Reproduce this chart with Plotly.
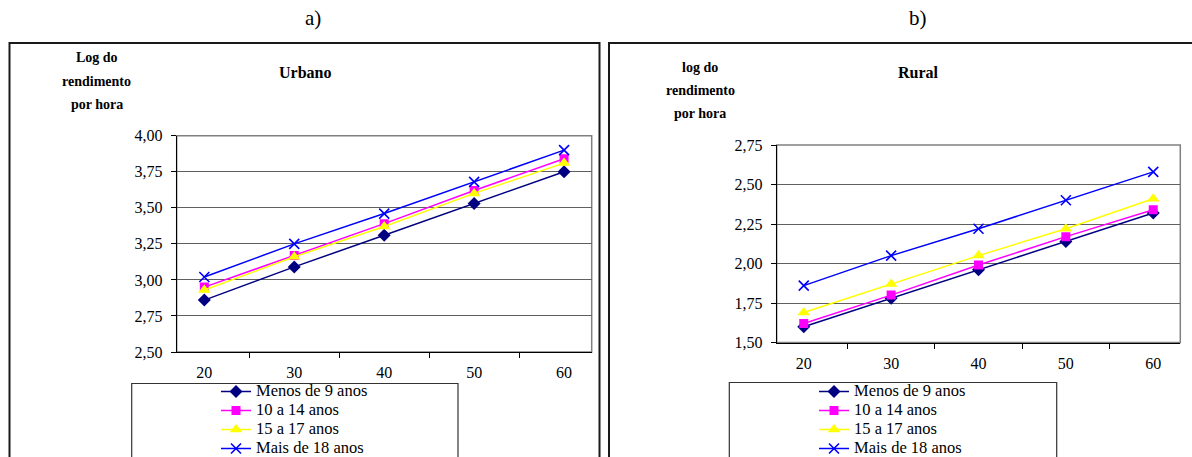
import plotly.graph_objects as go

W, H = 1192, 457

# ---------------- data ----------------
ages = ["20", "30", "40", "50", "60"]
series_names = ["Menos de 9 anos", "10 a 14 anos", "15 a 17 anos", "Mais de 18 anos"]

urb_menos9 = [2.86, 3.09, 3.31, 3.53, 3.75]
urb_10a14 = [2.95, 3.17, 3.39, 3.62, 3.84]
urb_15a17 = [2.93, 3.16, 3.37, 3.60, 3.81]
urb_mais18 = [3.02, 3.25, 3.46, 3.68, 3.90]

rur_menos9 = [1.60, 1.78, 1.96, 2.14, 2.32]
rur_10a14 = [1.62, 1.80, 1.99, 2.17, 2.34]
rur_15a17 = [1.69, 1.87, 2.05, 2.22, 2.41]
rur_mais18 = [1.86, 2.05, 2.22, 2.40, 2.58]

urb_ticks = [2.50, 2.75, 3.00, 3.25, 3.50, 3.75, 4.00]
urb_ticklabels = ["2,50", "2,75", "3,00", "3,25", "3,50", "3,75", "4,00"]
rur_ticks = [1.50, 1.75, 2.00, 2.25, 2.50, 2.75]
rur_ticklabels = ["1,50", "1,75", "2,00", "2,25", "2,50", "2,75"]

# ---------------- styles ----------------
FONT = "Liberation Serif"
colors = ["#000080", "#FF00FF", "#FFFF00", "#0000FF"]
symbols = ["diamond", "square", "triangle-up", "x-thin"]
msizes = [10, 9, 11, 10]


def px(x):
    return x / W


def py(y):
    return 1 - y / H


fig = go.Figure()

urb = [urb_menos9, urb_10a14, urb_15a17, urb_mais18]
rur = [rur_menos9, rur_10a14, rur_15a17, rur_mais18]

for panel, (data, xa, ya, lg) in enumerate([(urb, "x", "y", "legend"), (rur, "x2", "y2", "legend2")]):
    for i, vals in enumerate(data):
        mk = dict(symbol=symbols[i], size=msizes[i], color=colors[i])
        if symbols[i] == "x-thin":
            mk["line"] = dict(color=colors[i], width=1.6)
        fig.add_trace(go.Scatter(
            x=ages, y=vals, mode="lines+markers",
            name='<span style="font-size:16.5px">' + series_names[i] + "</span>",
            line=dict(color=colors[i], width=1.5),
            marker=mk,
            xaxis=xa, yaxis=ya, legend=lg, showlegend=True,
        ))

axis_common_x = dict(
    type="category", tickson="boundaries", ticks="outside", ticklen=5,
    tickcolor="black", tickwidth=1, showline=True, linecolor="black", linewidth=1.2,
    showgrid=False, zeroline=False, tickfont=dict(family=FONT, size=16, color="black"),
    ticklabelstandoff=6, fixedrange=True,
)
axis_common_y = dict(
    ticks="outside", ticklen=5, tickcolor="black", tickwidth=1,
    showline=True, linecolor="black", linewidth=1.2,
    showgrid=True, gridcolor="#606060", gridwidth=1, zeroline=False,
    tickfont=dict(family=FONT, size=16, color="black"), ticklabelstandoff=5,
    tickmode="array", fixedrange=True,
)

fig.update_layout(
    width=W, height=H, margin=dict(l=0, r=0, t=0, b=0, autoexpand=False),
    paper_bgcolor="white", plot_bgcolor="white",
    font=dict(family=FONT, color="black"),
    xaxis=dict(domain=[px(176.7), px(591.7)], anchor="y", **axis_common_x),
    yaxis=dict(domain=[py(352), py(135.7)], anchor="x", range=[2.5, 4.0],
               tickvals=urb_ticks, ticktext=urb_ticklabels, **axis_common_y),
    xaxis2=dict(domain=[px(776.7), px(1180.3)], anchor="y2", **axis_common_x),
    yaxis2=dict(domain=[py(342.5), py(145)], anchor="x2", range=[1.5, 2.75],
                tickvals=rur_ticks, ticktext=rur_ticklabels, **axis_common_y),
    legend=dict(x=px(216), y=py(377), xanchor="left", yanchor="top",
                bgcolor="rgba(0,0,0,0)", borderwidth=0, font=dict(family=FONT, size=12, color="black"),
                tracegroupgap=0),
    legend2=dict(x=px(814), y=py(377), xanchor="left", yanchor="top",
                 bgcolor="rgba(0,0,0,0)", borderwidth=0, font=dict(family=FONT, size=12, color="black"),
                 tracegroupgap=0),
)

shapes = []
# outer panel frames
shapes.append(dict(type="rect", xref="paper", yref="paper", x0=px(9.5), x1=px(599.5), y0=py(470), y1=py(43),
                   line=dict(color="#1a1a1a", width=2), fillcolor="rgba(0,0,0,0)", layer="below"))
shapes.append(dict(type="rect", xref="paper", yref="paper", x0=px(609), x1=px(1205), y0=py(470), y1=py(43),
                   line=dict(color="#1a1a1a", width=2), fillcolor="rgba(0,0,0,0)", layer="below"))
# plot-area borders (grey)
for xr, yr in [("x domain", "y domain"), ("x2 domain", "y2 domain")]:
    shapes.append(dict(type="rect", xref=xr, yref=yr, x0=0, x1=1, y0=0, y1=1,
                       line=dict(color="#808080", width=1.5), layer="below"))
# legend boxes
shapes.append(dict(type="rect", xref="paper", yref="paper", x0=px(131.7), x1=px(458), y0=py(470), y1=py(383.5),
                   line=dict(color="#333333", width=1.2), layer="below"))
shapes.append(dict(type="rect", xref="paper", yref="paper", x0=px(729.3), x1=px(1056.7), y0=py(470), y1=py(382.5),
                   line=dict(color="#333333", width=1.2), layer="below"))
fig.update_layout(shapes=shapes)

ann = []


def add_text(text, x, y, size, bold=False):
    ann.append(dict(text=("<b>%s</b>" % text) if bold else text, x=px(x), y=py(y), xref="paper", yref="paper",
                    showarrow=False, xanchor="center", yanchor="middle",
                    font=dict(family=FONT, size=size, color="black")))


add_text("a)", 313, 18, 21)
add_text("b)", 918, 18, 21)
add_text("Urbano", 305, 72, 16, bold=True)
add_text("Rural", 918, 72, 16, bold=True)
for t, y in [("Log do", 58), ("rendimento", 82), ("por hora", 105)]:
    add_text(t, 97, y, 14, bold=True)
for t, y in [("log do", 67), ("rendimento", 90), ("por hora", 113)]:
    add_text(t, 700, y, 14, bold=True)
fig.update_layout(annotations=ann)

fig.write_html("out.html")
